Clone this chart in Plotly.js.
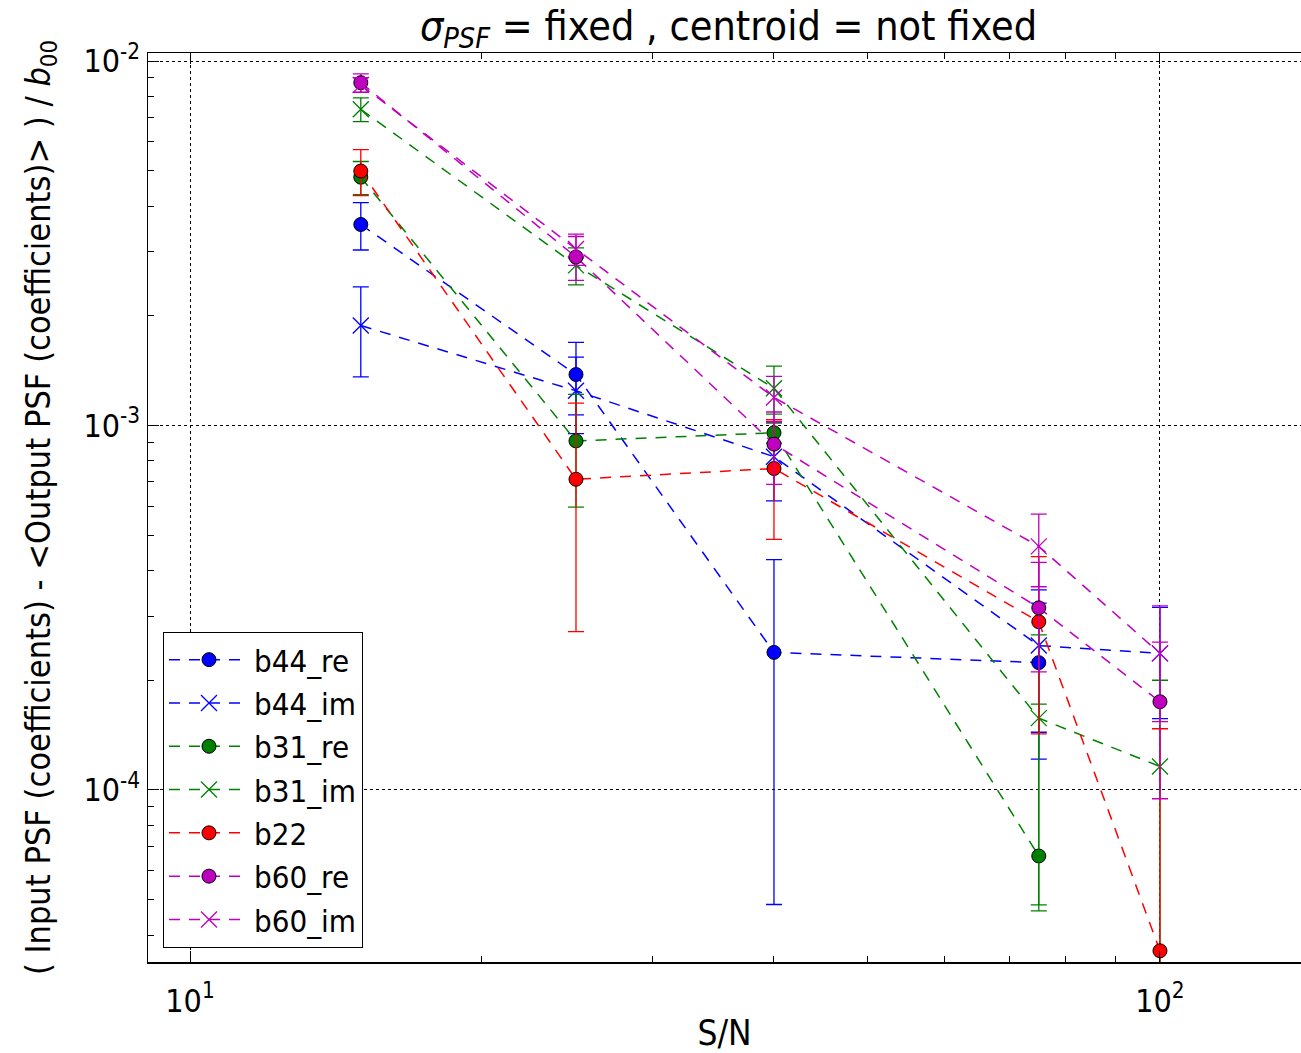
<!DOCTYPE html>
<html>
<head>
<meta charset="utf-8">
<script src="https://cdn.plot.ly/plotly-3.0.1.min.js"></script>
<style>html,body{margin:0;padding:0;background:#fff;}#chart{width:1301px;height:1053px;}</style>
</head>
<body>
<div id="chart"></div>
<script>
// Data
const sn = [15, 25, 40, 75, 100];

const xTickVals = [10, 100];
const xTickText = ['10<sup>1</sup>', '10<sup>2</sup>'];
const yTickVals = [1e-4, 1e-3, 1e-2];
const yTickText = ['10<sup>-4</sup>', '10<sup>-3</sup>', '10<sup>-2</sup>'];

const b44_re = [3.56e-3, 1.38e-3, 2.385e-4, 2.235e-4, null];
const b44_re_err = [0.53e-3, 0.31e-3, 0.19e-3, 1.02e-4, null];

const b44_im = [1.88e-3, 1.245e-3, 8.21e-4, 2.49e-4, 2.37e-4];
const b44_im_err = [0.52e-3, 0.295e-3, 0.2e-3, 1.05e-4, 0.8e-4];

const b31_re = [4.80e-3, 9.07e-4, 9.55e-4, 6.59e-5, null];
const b31_re_err = [0.5e-3, 0.31e-3, 0.06e-3, 1.06e-4, null];
const b31_re_errMinus = [0.5e-3, 0.31e-3, 0.06e-3, 1.93e-5, null];

const b31_im = [7.37e-3, 2.75e-3, 1.265e-3, 1.574e-4, 1.16e-4];
const b31_im_err = [0.55e-3, 0.32e-3, 0.19e-3, 1.09e-4, 0.84e-4];

const b22 = [4.99e-3, 7.12e-4, 7.62e-4, 2.895e-4, 3.62e-5];
const b22_err = [0.72e-3, 0.44e-3, 0.275e-3, 0.147e-3, 1.11e-4];

const b60_re = [8.72e-3, 2.9e-3, 8.89e-4, 3.16e-4, 1.746e-4];
const b60_re_err = [0.5e-3, 0.4e-3, 0.2e-3, 1.05e-4, 0.8e-4];

const b60_im = [8.6e-3, 3.05e-3, 1.194e-3, 4.66e-4, 2.37e-4];
const b60_im_err = [0.4e-3, 0.3e-3, 0.17e-3, 1.05e-4, 0.83e-4];

const C_BLUE = '#0000ff', C_GREEN = '#008000', C_RED = '#ff0000', C_MAG = '#bf00bf';

function series(name, y, err, color, circle, errMinus) {
  const eb = {type: 'data', array: err, visible: true, color: color, thickness: 1.3, width: 8};
  if (errMinus) { eb.symmetric = false; eb.arrayminus = errMinus; }
  return {
    x: sn, y: y, name: name, type: 'scatter', mode: 'lines+markers',
    legendgroup: name,
    line: {color: color, width: 1.5, dash: '11px,9px'},
    marker: circle
      ? {symbol: 'circle', size: 14, color: color, line: {color: '#000', width: 1}}
      : {symbol: 'x-thin-open', size: 16, color: color, line: {color: color, width: 1.3}},
    error_y: eb,
    connectgaps: false
  };
}

const traces = [
  series('b44_re', b44_re, b44_re_err, C_BLUE, true),
  series('b44_im', b44_im, b44_im_err, C_BLUE, false),
  series('b31_re', b31_re, b31_re_err, C_GREEN, true, b31_re_errMinus),
  series('b31_im', b31_im, b31_im_err, C_GREEN, false),
  series('b22', b22, b22_err, C_RED, true),
  series('b60_re', b60_re, b60_re_err, C_MAG, true),
  series('b60_im', b60_im, b60_im_err, C_MAG, false)
];

const condensed = 'DejaVu Sans Condensed, DejaVu Sans, sans-serif';
const layout = {
  width: 1301, height: 1053,
  margin: {l: 148, r: 0, t: 53, b: 91},
  paper_bgcolor: '#fff', plot_bgcolor: '#fff',
  showlegend: true,
  title: {
    text: '<i>σ</i><sub><i>PSF</i></sub> = fixed , centroid = not fixed',
    font: {family: condensed, size: 41, color: '#000'},
    x: 0.56, xanchor: 'center', y: 0.976, yanchor: 'middle'
  },
  xaxis: {
    type: 'log', range: [0.9567, 2.1454],
    tickvals: xTickVals, ticktext: xTickText,
    tickfont: {family: condensed, size: 32, color: '#000'},
    ticklabelstandoff: 10,
    ticks: 'inside', ticklen: 11, tickwidth: 1, tickcolor: '#000',
    showline: true, linecolor: '#000', linewidth: 1.5, mirror: 'ticks',
    showgrid: true, gridcolor: '#000', gridwidth: 1, griddash: 'dot',
    zeroline: false,
    minor: {ticks: 'inside', ticklen: 6, tickcolor: '#000', dtick: 'D1', showgrid: false},
    title: {text: 'S/N', font: {family: condensed, size: 35, color: '#000'}, standoff: 10}
  },
  yaxis: {
    type: 'log', range: [-4.472, -1.978],
    tickvals: yTickVals, ticktext: yTickText,
    tickfont: {family: condensed, size: 32, color: '#000'},
    ticks: 'inside', ticklen: 11, tickwidth: 1, tickcolor: '#000',
    showline: true, linecolor: '#000', linewidth: 1.5, mirror: false,
    showgrid: true, gridcolor: '#000', gridwidth: 1, griddash: 'dot',
    zeroline: false,
    minor: {ticks: 'inside', ticklen: 6, tickcolor: '#000', dtick: 'D1', showgrid: false},
    title: {text: '( Input PSF (coefficients) - <Output PSF (coefficients)> ) / <i>b</i><sub>00</sub>',
            font: {family: condensed, size: 34, color: '#000'}, standoff: 22}
  },
  legend: {
    x: 0.013, xanchor: 'left', y: 0.0154, yanchor: 'bottom',
    bgcolor: '#fff', bordercolor: '#000', borderwidth: 1,
    font: {family: condensed, size: 31, color: '#000'},
    tracegroupgap: 0, itemwidth: 80
  }
};

Plotly.newPlot('chart', traces, layout, {displayModeBar: false, staticPlot: true});
</script>
</body>
</html>
